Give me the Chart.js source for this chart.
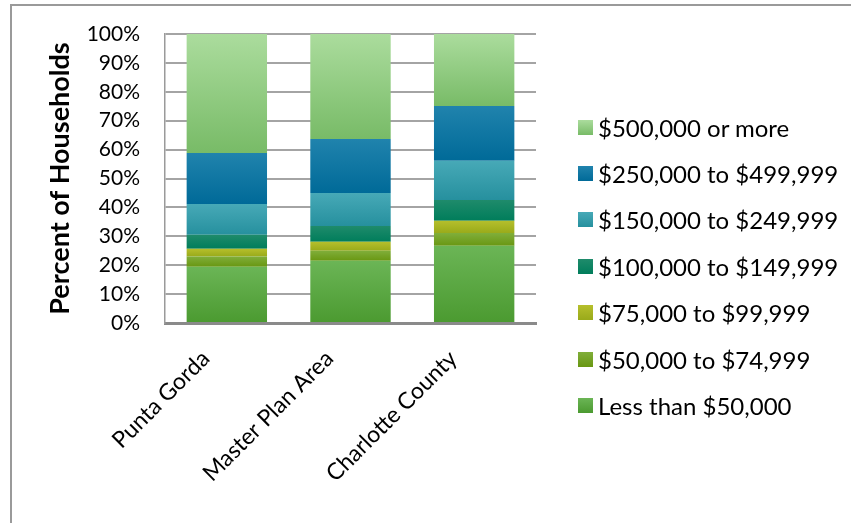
<!DOCTYPE html>
<html>
<head>
<meta charset="utf-8">
<script src="https://cdn.jsdelivr.net/npm/chart.js@4/dist/chart.umd.min.js"></script>
<style>
  html, body { margin: 0; padding: 0; background: #fff; }
  #wrap { position: relative; width: 851px; height: 523px; }
  #legend { position: absolute; left: 578px; top: 104px; font-family: Lato, sans-serif; font-size: 24px; color: #000; }
  #legend div { height: 46.4px; display: flex; align-items: center; white-space: nowrap; }
  #legend span.box { width: 15px; height: 15px; margin-right: 5px; display: inline-block; }
</style>
</head>
<body>
<div id="wrap">
  <canvas id="income-chart" width="851" height="523"></canvas>
  <div id="legend"></div>
</div>
<script>
const places = ['Punta Gorda', 'Master Plan Area', 'Charlotte County'];
const incomeBands = [
    'Less than $50,000',
    '$50,000 to $74,999',
    '$75,000 to $99,999',
    '$100,000 to $149,999',
    '$150,000 to $249,999',
    '$250,000 to $499,999',
    '$500,000 or more'
];
// percent of households, bottom band first
const lessThan50k = [19.5, 21.5, 26.7];
const from50to75k = [3.5, 3.5, 4.4];
const from75to100k = [2.7, 3.1, 4.3];
const from100to150k = [4.8, 5.5, 7.2];
const from150to250k = [10.7, 11.4, 13.5];
const from250to500k = [17.6, 18.7, 19.0];
const over500k = [41.2, 36.3, 24.9];
const yTicks = [0, 10, 20, 30, 40, 50, 60, 70, 80, 90, 100];

// [top, bottom] colours of each band's gradient
const bandColors = [
    ['#6bb556', '#4b9a30'],
    ['#80ae3a', '#699712'],
    ['#b6bf2c', '#99aa1a'],
    ['#1f8b6b', '#007d5b'],
    ['#47a9b7', '#26909e'],
    ['#2083ad', '#006a98'],
    ['#abdc9d', '#78bb67']
];
const bandData = [lessThan50k, from50to75k, from75to100k, from100to150k, from150to250k, from250to500k, over500k];

function segmentFill(ctx) {
    const [top, bottom] = bandColors[ctx.datasetIndex];
    const chart = ctx.chart;
    if (ctx.type !== 'data' || !chart.chartArea) return top;
    const y = chart.scales.y;
    let start = 0;
    for (let i = 0; i < ctx.datasetIndex; i++) start += bandData[i][ctx.dataIndex];
    const end = start + bandData[ctx.datasetIndex][ctx.dataIndex];
    const g = chart.ctx.createLinearGradient(0, y.getPixelForValue(end), 0, y.getPixelForValue(start));
    g.addColorStop(0, top);
    g.addColorStop(1, bottom);
    return g;
}

const frame = {
    id: 'frame',
    afterDraw(chart) {
        const c = chart.ctx;
        c.save();
        c.strokeStyle = '#9a9a9a';
        c.lineWidth = 2;
        c.beginPath();
        c.moveTo(11, 523);
        c.lineTo(11, 5);
        c.lineTo(851, 5);
        c.stroke();
        c.restore();
    }
};

const ctx = document.getElementById('income-chart').getContext('2d');
const chart = new Chart(ctx, {
    type: 'bar',
    data: {
        labels: places,
        datasets: incomeBands.map((band, i) => ({
            label: band,
            data: bandData[i],
            backgroundColor: segmentFill,
            borderWidth: 0,
            barPercentage: 0.65,
            categoryPercentage: 1
        }))
    },
    options: {
        responsive: false,
        animation: false,
        layout: { padding: { top: 34, left: 0, right: 315, bottom: 0 } },
        plugins: {
            tooltip: { enabled: false },
            legend: { display: false }
        },
        scales: {
            x: {
                stacked: true,
                grid: { display: false, drawTicks: false },
                border: { color: '#8a8a8a', width: 3 },
                ticks: {
                    color: '#000',
                    font: { family: 'Lato', size: 23 },
                    minRotation: 45,
                    maxRotation: 45,
                    padding: 22,
                    labelOffset: -21
                },
                afterFit(scale) { scale.height = 200; }
            },
            y: {
                stacked: true,
                min: 0,
                max: 100,
                afterBuildTicks(scale) { scale.ticks = yTicks.map(v => ({ value: v })); },
                // invisible tick marks keep the labels clear of the axis without padding the top
                grid: { color: '#a4a4a4', lineWidth: 2, drawTicks: true, tickLength: 22, tickColor: 'rgba(0,0,0,0)' },
                border: { color: '#9a9a9a', width: 1.5 },
                ticks: {
                    color: '#000',
                    font: { family: 'Lato', size: 21 },
                    padding: 3,
                    callback: v => v + '%'
                },
                title: {
                    display: true,
                    text: 'Percent of Households',
                    color: '#000',
                    font: { family: 'Lato', size: 27, weight: 'bold' },
                    padding: { top: 44, bottom: 0 }
                },
                afterFit(scale) { scale.width = 165; }
            }
        }
    },
    plugins: [frame]
});

// legend built from the chart's datasets, top band first
const legendEl = document.getElementById('legend');
chart.data.datasets.slice().reverse().forEach(ds => {
    const [top, bottom] = bandColors[chart.data.datasets.indexOf(ds)];
    const row = document.createElement('div');
    const box = document.createElement('span');
    box.className = 'box';
    box.style.background = `linear-gradient(${top}, ${bottom})`;
    row.appendChild(box);
    row.appendChild(document.createTextNode(ds.label));
    legendEl.appendChild(row);
});
</script>
</body>
</html>
